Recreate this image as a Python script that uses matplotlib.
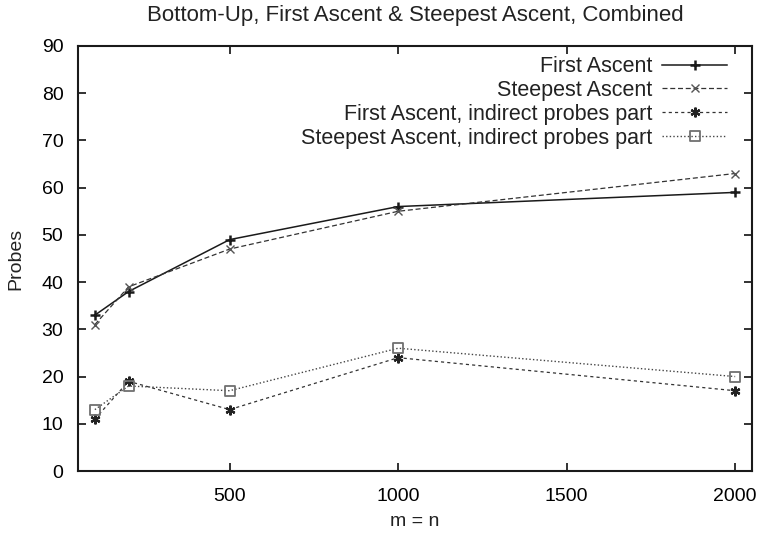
import matplotlib
matplotlib.use("Agg")
import matplotlib.pyplot as plt
from matplotlib.path import Path

# --- dados ---
tamanhos = [100, 200, 500, 1000, 2000]
first_ascent = [33, 38, 49, 56, 59]
steepest_ascent = [31, 39, 47, 55, 63]
first_indireto = [11, 19, 13, 24, 17]
steepest_indireto = [13, 18, 17, 26, 20]

rotulos = [
    "First Ascent",
    "Steepest Ascent",
    "First Ascent, indirect probes part",
    "Steepest Ascent, indirect probes part",
]

plt.rcParams["font.family"] = ["Liberation Sans", "DejaVu Sans"]

# quadrado com ponto no centro (estilo gnuplot)
quadrado_ponto = Path(
    [(-1, -1), (1, -1), (1, 1), (-1, 1), (-1, -1),
     (-0.08, -0.08), (0.08, -0.08), (0.08, 0.08), (-0.08, 0.08), (-0.08, -0.08)],
    [Path.MOVETO, Path.LINETO, Path.LINETO, Path.LINETO, Path.CLOSEPOLY,
     Path.MOVETO, Path.LINETO, Path.LINETO, Path.LINETO, Path.CLOSEPOLY],
)

fig = plt.figure(figsize=(7.61, 5.40), dpi=100)
ax = fig.add_axes([78 / 761, 69 / 540, 674 / 761, 425 / 540])

ax.plot(tamanhos, first_ascent, c="#1a1a1a", linestyle="-", linewidth=1.1,
        marker="+", markersize=7, markeredgewidth=1.8, label=rotulos[0])
ax.plot(tamanhos, steepest_ascent, c="#333333", linestyle=(0, (4, 2.2)), linewidth=0.9,
        marker="x", markersize=6, markeredgewidth=1.0, markeredgecolor="#555555",
        label=rotulos[1])
ax.plot(tamanhos, first_indireto, c="#333333", linestyle=(0, (2.5, 2.5)), linewidth=0.9,
        marker=(6, 2, 0), markersize=7, markeredgewidth=1.6, markeredgecolor="#222222",
        label=rotulos[2])
ax.plot(tamanhos, steepest_indireto, c="#444444", linestyle=(0, (1, 1.6)), linewidth=1.0,
        marker=quadrado_ponto, markersize=7, markerfacecolor="none",
        markeredgecolor="#707070", markeredgewidth=1.3, label=rotulos[3])

ax.set_xlim(50, 2050)
ax.set_ylim(0, 90)
ax.set_xticks([500, 1000, 1500, 2000])
ax.set_yticks(range(0, 91, 10))
ax.tick_params(direction="in", length=5.5, width=1.3, top=True, right=True,
               labelsize=14, color="#222222")
ax.tick_params(axis="x", pad=12.5)
ax.tick_params(axis="y", pad=10.5)
for s in ax.spines.values():
    s.set_linewidth(1.5)
    s.set_color("#1a1a1a")

ax.set_title("Bottom-Up, First Ascent & Steepest Ascent, Combined",
             fontsize=16, pad=18, color="#222222")
ax.set_xlabel("m = n", fontsize=14, color="#222222")
ax.set_ylabel("Probes", fontsize=14, color="#222222")
ax.xaxis.set_label_coords(0.5, -0.1)
ax.yaxis.set_label_coords(-0.079, 0.5)

leg = ax.legend(loc="upper right", bbox_to_anchor=(0.963, 0.976), frameon=False,
                markerfirst=False, fontsize=15.5, handlelength=3.0,
                labelspacing=0.13, borderpad=0, borderaxespad=0,
                handletextpad=0.48)
for t in leg.get_texts():
    t.set_ha("right")
    t.set_color("#222222")

fig.savefig("out.png", dpi=100)
